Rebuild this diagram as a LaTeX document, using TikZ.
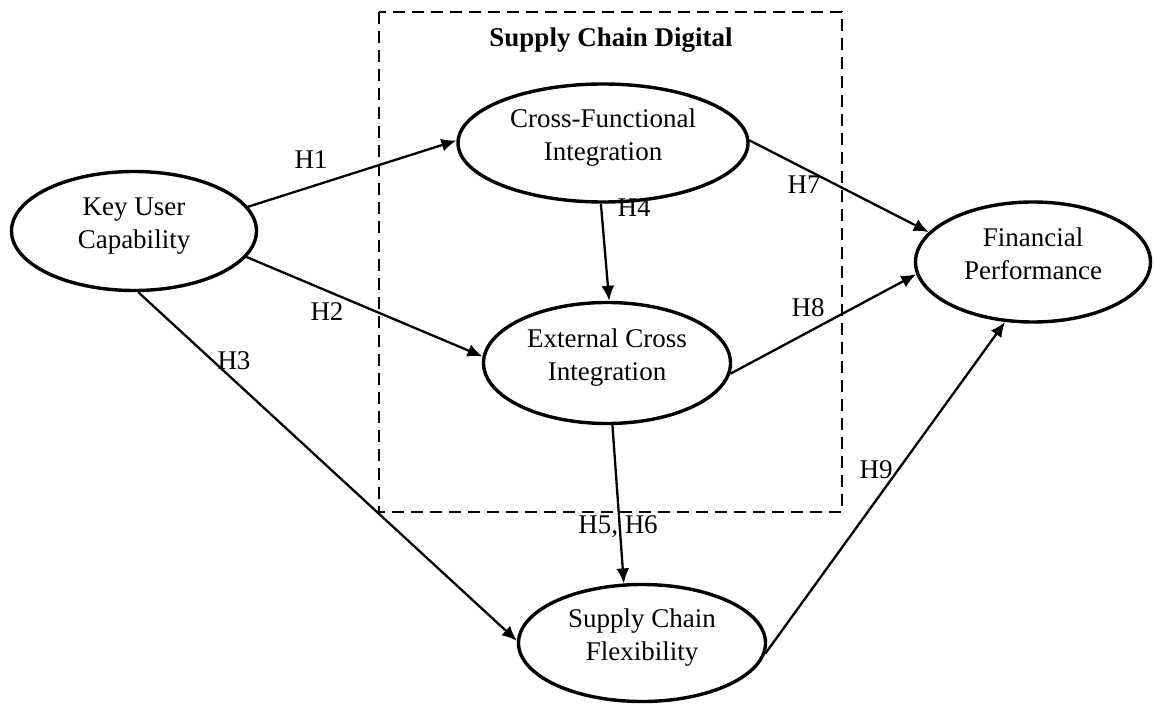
\documentclass[tikz,border=0pt]{standalone}
\usepackage{fontspec}
\setmainfont{Liberation Serif}
\usepackage{tikz}
\usetikzlibrary{shapes.geometric, arrows.meta}
\tikzset{construct/.style = {draw, ellipse, line width=3.4pt, inner sep=0pt}}
\tikzset{hyp/.style = {inner sep=0pt, text depth=0pt}}
\tikzset{digitalbox/.style = {draw, line width=2.8pt, dash pattern=on 12pt off 7pt}}
\newcommand{\ovaltext}[1]{\raisebox{6pt}[\height][\depth]{\begin{tabular}{@{}c@{}}#1\end{tabular}}}

\begin{document}
\begin{tikzpicture}[x=1pt, y=1pt, >={Latex[length=15pt,width=13pt]}, line width=2.3pt,
    font=\fontsize{27}{33}\selectfont]
  \useasboundingbox (0,0) rectangle (1154,705);

  % dashed group and its title
  \draw [digitalbox] (379,693) rectangle (842,193);
  \node [font=\fontsize{27}{33}\selectfont\bfseries] (digital) at (611,665) {Supply Chain Digital};

  \node [construct, minimum width=245pt, minimum height=119pt] (kuc) at (134,474) {\ovaltext{Key User\\Capability}};
  \node [construct, minimum width=290pt, minimum height=118pt] (cfi) at (603,562) {\ovaltext{Cross-Functional\\Integration}};
  \node [construct, minimum width=247pt, minimum height=121pt] (eci) at (607,342) {\ovaltext{External Cross\\Integration}};
  \node [construct, minimum width=235pt, minimum height=120pt] (fp) at (1033,443) {\ovaltext{Financial\\Performance}};
  \node [construct, minimum width=247pt, minimum height=117pt] (scf) at (642,62) {\ovaltext{Supply Chain\\Flexibility}};

  \path[->] (kuc.12) edge (cfi.179);
  \path[->] (kuc.-13) edge (eci.177);
  \path[->] (kuc.-86) edge (scf.179);
  \path[->] (cfi.-92) edge (eci.88);
  \path[->] (eci.-85) edge (scf.107);
  \path[->] (cfi.1) edge (fp.164);
  \path[->] (eci.-5) edge (fp.186);
  \path[->] (scf.-5) edge (fp.245);

  % hypothesis labels
  \node [hyp] (h1) at (311,545) {H1};
  \node [hyp] (h2) at (327,393) {H2};
  \node [hyp] (h3) at (234,344) {H3};
  \node [hyp] (h4) at (634,497) {H4};
  \node [hyp] (h56) at (618,180) {H5, H6};
  \node [hyp] (h7) at (804,520) {H7};
  \node [hyp] (h8) at (808,397) {H8};
  \node [hyp] (h9) at (876,235) {H9};
\end{tikzpicture}
\end{document}
